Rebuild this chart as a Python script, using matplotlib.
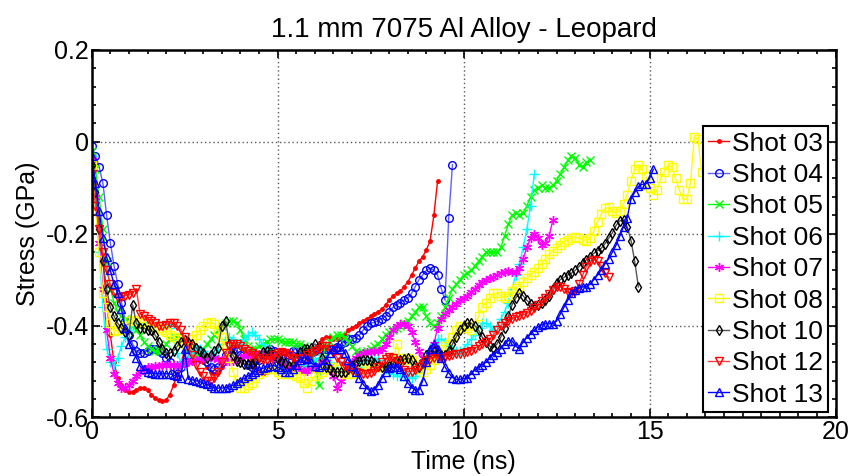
import numpy as np
import matplotlib
matplotlib.use("Agg")
from matplotlib import pyplot as plt
from matplotlib.ticker import MultipleLocator

plt.rcParams['font.family'] = ['Liberation Sans', 'DejaVu Sans']
plt.rcParams['axes.unicode_minus'] = False

# stress traces (GPa), sampled every 0.1 ns starting at t = 0
dt = 0.1

shot03 = [-0.03, -0.09, -0.17, -0.26, -0.35, -0.42, -0.48, -0.515, -0.53, -0.54,
          -0.545, -0.545, -0.54, -0.535, -0.535, -0.54, -0.55, -0.558, -0.563, -0.565,
          -0.562, -0.55, -0.53, -0.505, -0.48, -0.455, -0.44, -0.44, -0.45, -0.465,
          -0.48, -0.49, -0.50, -0.505, -0.50, -0.49, -0.475, -0.46, -0.45, -0.445,
          -0.445, -0.45, -0.46, -0.475, -0.49, -0.50, -0.505, -0.50, -0.49, -0.475,
          -0.46, -0.455, -0.455, -0.46, -0.47, -0.48, -0.49, -0.49, -0.48, -0.47,
          -0.455, -0.44, -0.43, -0.425, -0.425, -0.43, -0.43, -0.425, -0.42, -0.41,
          -0.405, -0.40, -0.395, -0.39, -0.385, -0.38, -0.375, -0.37, -0.365, -0.355,
          -0.345, -0.335, -0.33, -0.325, -0.315, -0.305, -0.29, -0.275, -0.26, -0.25,
          -0.235, -0.215, -0.16, -0.085]

shot04 = [-0.01, -0.03, -0.055, -0.09, -0.16, -0.22, -0.27, -0.31, -0.35, -0.39,
          -0.42, -0.44, -0.455, -0.46, -0.46, -0.455, -0.45, -0.45, -0.455, -0.46,
          -0.47, -0.48, -0.49, -0.495, -0.49, -0.48, -0.465, -0.455, -0.45, -0.455,
          -0.465, -0.48, -0.49, -0.495, -0.49, -0.48, -0.465, -0.455, -0.45, -0.455,
          -0.465, -0.475, -0.485, -0.49, -0.485, -0.475, -0.465, -0.455, -0.45, -0.455,
          -0.465, -0.47, -0.47, -0.465, -0.455, -0.45, -0.45, -0.455, -0.46, -0.46,
          -0.455, -0.45, -0.45, -0.452, -0.452, -0.45, -0.447, -0.44, -0.435, -0.43,
          -0.43, -0.427, -0.42, -0.41, -0.40, -0.395, -0.393, -0.39, -0.385, -0.38,
          -0.37, -0.36, -0.355, -0.35, -0.345, -0.34, -0.33, -0.315, -0.30, -0.29,
          -0.28, -0.275, -0.28, -0.29, -0.32, -0.345, -0.165, -0.05]

shot05 = [-0.02, -0.06, -0.12, -0.19, -0.26, -0.32, -0.35, -0.37, -0.38, -0.385,
          -0.39, -0.40, -0.41, -0.42, -0.435, -0.445, -0.45, -0.455, -0.455, -0.45,
          -0.44, -0.43, -0.425, -0.425, -0.43, -0.44, -0.45, -0.46, -0.465, -0.46,
          -0.45, -0.44, -0.43, -0.42, -0.41, -0.40, -0.395, -0.39, -0.39, -0.395,
          -0.41, -0.43, -0.445, -0.45, -0.45, -0.445, -0.44, -0.435, -0.43, -0.43,
          -0.43, -0.433, -0.435, -0.435, -0.435, -0.44, -0.44, -0.445, -0.45, -0.455,
          -0.48, -0.53, -0.47, -0.445, -0.435, -0.425, -0.42, -0.42, -0.425, -0.435,
          -0.445, -0.455, -0.46, -0.46, -0.455, -0.45, -0.445, -0.44, -0.43, -0.42,
          -0.415, -0.41, -0.405, -0.40, -0.395, -0.39, -0.38, -0.37, -0.36, -0.36,
          -0.38, -0.395, -0.40, -0.395, -0.38, -0.36, -0.34, -0.32, -0.31, -0.30,
          -0.29, -0.285, -0.28, -0.27, -0.26, -0.25, -0.24, -0.24, -0.24, -0.24,
          -0.23, -0.205, -0.18, -0.16, -0.155, -0.16, -0.155, -0.14, -0.12, -0.105,
          -0.10, -0.095, -0.10, -0.10, -0.095, -0.085, -0.07, -0.055, -0.04, -0.03,
          -0.035, -0.05, -0.055, -0.045, -0.04]

shot06 = [-0.03, -0.13, -0.24, -0.36, -0.45, -0.48, -0.485, -0.47, -0.445, -0.425,
          -0.41, -0.40, -0.395, -0.395, -0.395, -0.395, -0.40, -0.40, -0.40, -0.40,
          -0.40, -0.405, -0.43, -0.46, -0.48, -0.485, -0.475, -0.46, -0.45, -0.45,
          -0.455, -0.465, -0.47, -0.465, -0.45, -0.44, -0.43, -0.425, -0.43, -0.44,
          -0.44, -0.43, -0.42, -0.415, -0.42, -0.43, -0.44, -0.45, -0.46, -0.47,
          -0.48, -0.49, -0.495, -0.50, -0.50, -0.50, -0.495, -0.49, -0.485, -0.48,
          -0.475, -0.47, -0.47, -0.475, -0.48, -0.49, -0.495, -0.50, -0.50, -0.50,
          -0.50, -0.495, -0.49, -0.48, -0.475, -0.47, -0.47, -0.475, -0.485, -0.495,
          -0.50, -0.505, -0.51, -0.51, -0.51, -0.51, -0.515, -0.51, -0.50, -0.485,
          -0.47, -0.455, -0.44, -0.43, -0.43, -0.435, -0.445, -0.45, -0.455, -0.455,
          -0.45, -0.44, -0.43, -0.42, -0.405, -0.395, -0.395, -0.40, -0.41, -0.40,
          -0.385, -0.37, -0.35, -0.32, -0.29, -0.265, -0.23, -0.19, -0.14, -0.07]

shot07 = [-0.04, -0.12, -0.22, -0.32, -0.41, -0.47, -0.505, -0.525, -0.535, -0.535,
          -0.53, -0.52, -0.51, -0.50, -0.495, -0.49, -0.49, -0.488, -0.487, -0.485,
          -0.485, -0.485, -0.485, -0.485, -0.485, -0.482, -0.48, -0.478, -0.475, -0.472,
          -0.47, -0.468, -0.468, -0.47, -0.472, -0.475, -0.477, -0.478, -0.477, -0.475,
          -0.47, -0.467, -0.465, -0.463, -0.462, -0.462, -0.462, -0.463, -0.465, -0.47,
          -0.475, -0.48, -0.485, -0.49, -0.493, -0.495, -0.497, -0.498, -0.498, -0.495,
          -0.49, -0.485, -0.48, -0.48, -0.49, -0.51, -0.535, -0.52, -0.505, -0.49,
          -0.48, -0.47, -0.465, -0.46, -0.458, -0.457, -0.456, -0.455, -0.45, -0.44,
          -0.425, -0.41, -0.40, -0.397, -0.397, -0.40, -0.415, -0.435, -0.455, -0.47,
          -0.477, -0.465, -0.44, -0.405, -0.385, -0.375, -0.367, -0.36, -0.352, -0.345,
          -0.34, -0.335, -0.327, -0.32, -0.312, -0.305, -0.30, -0.297, -0.294, -0.29,
          -0.286, -0.283, -0.282, -0.283, -0.284, -0.275, -0.255, -0.23, -0.21, -0.20,
          -0.21, -0.225, -0.22, -0.205, -0.17]

shot08 = [-0.05, -0.14, -0.24, -0.33, -0.36, -0.395, -0.412, -0.41, -0.405, -0.40,
          -0.39, -0.388, -0.39, -0.392, -0.395, -0.397, -0.40, -0.403, -0.405, -0.41,
          -0.415, -0.42, -0.425, -0.43, -0.435, -0.44, -0.44, -0.43, -0.42, -0.41,
          -0.40, -0.395, -0.393, -0.397, -0.41, -0.425, -0.445, -0.47, -0.50, -0.525,
          -0.535, -0.535, -0.53, -0.525, -0.515, -0.505, -0.50, -0.495, -0.495, -0.495,
          -0.50, -0.505, -0.505, -0.505, -0.505, -0.51, -0.515, -0.525, -0.535, -0.52,
          -0.51, -0.505, -0.50, -0.495, -0.49, -0.49, -0.495, -0.50, -0.505, -0.505,
          -0.505, -0.50, -0.50, -0.495, -0.49, -0.49, -0.49, -0.49, -0.49, -0.49,
          -0.49, -0.485, -0.44, -0.47, -0.475, -0.47, -0.475, -0.485, -0.495, -0.50,
          -0.495, -0.485, -0.475, -0.46, -0.45, -0.445, -0.44, -0.425, -0.41, -0.40,
          -0.40, -0.405, -0.41, -0.40, -0.38, -0.36, -0.35, -0.34, -0.33, -0.33,
          -0.335, -0.34, -0.335, -0.325, -0.318, -0.313, -0.305, -0.297, -0.29, -0.283,
          -0.275, -0.265, -0.255, -0.245, -0.238, -0.232, -0.225, -0.218, -0.213, -0.21,
          -0.208, -0.21, -0.213, -0.215, -0.21, -0.195, -0.175, -0.158, -0.145, -0.143,
          -0.15, -0.155, -0.15, -0.135, -0.115, -0.085, -0.06, -0.05, -0.06, -0.075,
          -0.10, -0.115, -0.105, -0.08, -0.065, -0.05, -0.055, -0.08, -0.105, -0.125,
          -0.125, -0.09, 0.01, 0.005, -0.065]

shot10 = [-0.05, -0.11, -0.19, -0.26, -0.32, -0.36, -0.38, -0.395, -0.405, -0.415,
          -0.42, -0.355, -0.395, -0.405, -0.405, -0.41, -0.41, -0.42, -0.435, -0.45,
          -0.46, -0.46, -0.455, -0.445, -0.435, -0.432, -0.435, -0.44, -0.448, -0.455,
          -0.46, -0.47, -0.465, -0.455, -0.448, -0.40, -0.39, -0.44, -0.465, -0.477,
          -0.48, -0.483, -0.484, -0.484, -0.478, -0.468, -0.458, -0.455, -0.458, -0.465,
          -0.472, -0.477, -0.482, -0.487, -0.485, -0.47, -0.457, -0.452, -0.45, -0.448,
          -0.44, -0.445, -0.47, -0.49, -0.495, -0.50, -0.50, -0.50, -0.50, -0.495,
          -0.488, -0.48, -0.477, -0.475, -0.475, -0.477, -0.482, -0.487, -0.49, -0.49,
          -0.487, -0.482, -0.478, -0.475, -0.473, -0.47, -0.475, -0.485, -0.49, -0.48,
          -0.465, -0.455, -0.455, -0.46, -0.465, -0.465, -0.455, -0.44, -0.425, -0.41,
          -0.40, -0.395, -0.395, -0.40, -0.41, -0.425, -0.435, -0.445, -0.448, -0.44,
          -0.425, -0.405, -0.38, -0.355, -0.34, -0.33, -0.335, -0.345, -0.352, -0.357,
          -0.355, -0.35, -0.345, -0.335, -0.32, -0.308, -0.30, -0.295, -0.29, -0.286,
          -0.28, -0.272, -0.263, -0.257, -0.25, -0.243, -0.237, -0.232, -0.222, -0.21,
          -0.198, -0.182, -0.172, -0.17, -0.185, -0.215, -0.26, -0.316]

shot12 = [-0.07, -0.14, -0.19, -0.24, -0.28, -0.31, -0.33, -0.34, -0.338, -0.335,
          -0.333, -0.33, -0.32, -0.375, -0.38, -0.385, -0.39, -0.395, -0.40, -0.40,
          -0.398, -0.395, -0.395, -0.40, -0.41, -0.425, -0.445, -0.465, -0.485, -0.50,
          -0.51, -0.52, -0.52, -0.515, -0.50, -0.48, -0.46, -0.445, -0.44, -0.44,
          -0.445, -0.45, -0.455, -0.46, -0.465, -0.47, -0.475, -0.475, -0.47, -0.465,
          -0.46, -0.458, -0.46, -0.465, -0.47, -0.472, -0.472, -0.47, -0.465, -0.46,
          -0.455, -0.45, -0.445, -0.445, -0.45, -0.46, -0.47, -0.48, -0.487, -0.493,
          -0.497, -0.50, -0.503, -0.505, -0.505, -0.503, -0.498, -0.49, -0.48, -0.472,
          -0.468, -0.47, -0.478, -0.488, -0.497, -0.50, -0.50, -0.497, -0.49, -0.483,
          -0.477, -0.472, -0.47, -0.47, -0.47, -0.468, -0.466, -0.463, -0.462, -0.462,
          -0.46, -0.458, -0.455, -0.45, -0.445, -0.44, -0.435, -0.43, -0.42, -0.41,
          -0.40, -0.395, -0.39, -0.386, -0.382, -0.38, -0.377, -0.373, -0.368, -0.362,
          -0.355, -0.347, -0.34, -0.332, -0.322, -0.316, -0.315, -0.32, -0.327, -0.33,
          -0.325, -0.31, -0.29, -0.272, -0.262, -0.257, -0.26, -0.27, -0.285, -0.295]

shot13 = [-0.03, -0.09, -0.15, -0.21, -0.25, -0.28, -0.31, -0.33, -0.365, -0.405,
          -0.44, -0.455, -0.47, -0.488, -0.495, -0.50, -0.503, -0.505, -0.505, -0.505,
          -0.505, -0.505, -0.508, -0.51, -0.513, -0.45, -0.517, -0.518, -0.52, -0.522,
          -0.525, -0.528, -0.532, -0.535, -0.536, -0.536, -0.535, -0.533, -0.53, -0.525,
          -0.52, -0.515, -0.51, -0.505, -0.50, -0.497, -0.493, -0.49, -0.488, -0.487,
          -0.49, -0.495, -0.50, -0.50, -0.495, -0.485, -0.475, -0.47, -0.472, -0.48,
          -0.488, -0.49, -0.485, -0.475, -0.46, -0.45, -0.447, -0.45, -0.46, -0.475,
          -0.487, -0.50, -0.515, -0.528, -0.537, -0.543, -0.54, -0.53, -0.515, -0.50,
          -0.492, -0.49, -0.49, -0.495, -0.51, -0.525, -0.535, -0.54, -0.54, -0.52,
          -0.48, -0.45, -0.44, -0.45, -0.47, -0.49, -0.503, -0.513, -0.517, -0.517,
          -0.515, -0.513, -0.505, -0.497, -0.49, -0.485, -0.48, -0.47, -0.463, -0.458,
          -0.45, -0.44, -0.433, -0.433, -0.445, -0.45, -0.435, -0.426, -0.418, -0.41,
          -0.403, -0.398, -0.396, -0.396, -0.396, -0.39, -0.375, -0.36, -0.345, -0.33,
          -0.322, -0.318, -0.316, -0.315, -0.31, -0.30, -0.29, -0.28, -0.265, -0.255,
          -0.24, -0.225, -0.205, -0.185, -0.165, -0.125, -0.11, -0.097, -0.093, -0.092,
          -0.08, -0.06]

labels = ["Shot 03", "Shot 04", "Shot 05", "Shot 06", "Shot 07",
          "Shot 08", "Shot 10", "Shot 12", "Shot 13"]
shots = [shot03, shot04, shot05, shot06, shot07, shot08, shot10, shot12, shot13]

# line colour, marker colour, marker, marker size, filled marker?
styles = [
    ("#ff0000", "#ff0000", ".", 5, True),
    ("#6060ff", "#0000ff", "o", 5.5, False),
    ("#00ff00", "#00ff00", "x", 5.5, True),
    ("#00ffff", "#00ffff", "+", 7, True),
    ("#ff00ff", "#ff00ff", (6, 2, 0), 6.5, True),
    ("#ffff00", "#ffff00", "s", 6, False),
    ("#555555", "#000000", "d", 5.5, False),
    ("#ff4040", "#ff0000", "v", 6, False),
    ("#0000ff", "#0000ff", "^", 6, False),
]

fig = plt.figure(figsize=(8.51, 4.76), dpi=100)
ax = fig.add_axes([0.1078, 0.1229, 0.874, 0.7725])

for s, lab, (lc, mc, mk, ms, filled) in zip(shots, labels, styles):
    t = np.arange(len(s)) * dt
    ax.plot(t, s, color=lc, lw=1.0, marker=mk, ms=ms,
            mec=mc, mfc=mc if filled else "none", mew=1.0, label=lab)

ax.set_xlim(0, 20)
ax.set_ylim(-0.6, 0.2)
ax.set_xticks([0, 5, 10, 15, 20])
ax.set_yticks([-0.6, -0.4, -0.2, 0, 0.2])
ax.set_yticklabels(["-0.6", "-0.4", "-0.2", "0", "0.2"])
ax.xaxis.set_minor_locator(MultipleLocator(0.5))
ax.yaxis.set_minor_locator(MultipleLocator(0.04))
ax.tick_params(which="both", direction="in", top=True, right=True,
               labelsize=18, width=1.2)
ax.tick_params(which="major", length=6, pad=2)
ax.tick_params(which="minor", length=3)
for sp in ax.spines.values():
    sp.set_linewidth(1.8)

ax.grid(True, which="major", color="0.35", linestyle=(0, (1, 2)), lw=1)

ax.set_title("1.1 mm 7075 Al Alloy - Leopard", fontsize=20, pad=9)
ax.set_xlabel("Time (ns)", fontsize=18, labelpad=4)
ax.set_ylabel("Stress (GPa)", fontsize=18, labelpad=4)

leg = ax.legend(loc="lower right", bbox_to_anchor=(0.99, 0.015),
                borderaxespad=0, fontsize=19, fancybox=False, framealpha=1,
                edgecolor="k", handlelength=0.8, handletextpad=0.1,
                labelspacing=0.28, borderpad=0.2)
leg.get_frame().set_linewidth(1.5)

fig.savefig("out.png", dpi=100)
